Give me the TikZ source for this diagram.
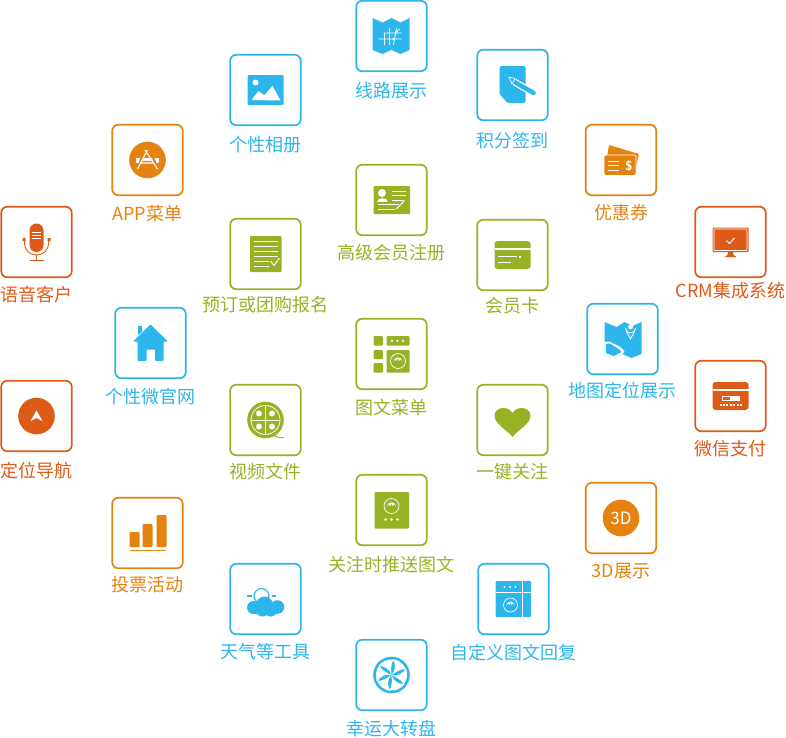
\documentclass[tikz,border=0pt]{standalone}
\usepackage{fontspec}
\newfontfamily\cjk{Noto Sans CJK SC}
\definecolor{bl}{HTML}{2DB6EC}
\definecolor{gr}{HTML}{97B224}
\definecolor{og}{HTML}{E58311}
\definecolor{rd}{HTML}{DE5A17}
\tikzset{
  tile/.style={draw, rounded corners=6pt, line width=1.7pt, minimum width=70.5pt, minimum height=70.5pt, inner sep=0pt},
  lbl/.style={font=\cjk\fontsize{18}{18}\selectfont, inner sep=0pt, anchor=center},
  ic/.style={fill=icn, rounded corners=1pt}
}
\newcommand\tile[7]{%
  \colorlet{icn}{#4}%
  \node[tile,draw=#4] (#1) at (#2,#3) {};
  \node[lbl,text=#4] (#1-l) at (#2,#5) {#6};
  \begin{scope}[shift={(#2,#3)}] #7 \end{scope}
}
\newcommand\flowerat[3]{% x y r
  \draw[white,line width=0.7pt] (#1,#2) circle (#3);
  \fill[white] ({#1-#3*0.6},{#2+#3*0.1}) -- ({#1-#3*0.35},{#2-#3*0.25}) -- ({#1-#3*0.15},{#2+#3*0.0}) -- (#1,{#2-#3*0.4}) -- ({#1+#3*0.15},{#2+#3*0.0}) -- ({#1+#3*0.35},{#2-#3*0.25}) -- ({#1+#3*0.6},{#2+#3*0.1}) arc (0:-180:{#3*0.6}) -- cycle;
}
\begin{document}
\begin{tikzpicture}[x=1pt,y=-1pt]
\useasboundingbox (0,0) rectangle (786,737);

% Route map
\tile{route}{391.5}{36}{bl}{91}{线路展示}{
  \fill[icn] (-19,-18)--(-9,-13.5)--(0,-18)--(9,-13.5)--(18,-18)--(18,14)--(9,18)--(0,14)--(-9,18)--(-19,14)--cycle;
  \draw[white,line width=0.7pt] (-13,3)--(10,3) (-8,-3)--(10,-3) (-2,-8)--(-2,9) (5,-8)--(2,9) (-7,-3)--(-7,9) (4,-3)--(8,-7);
  \fill[white] (2,3) circle (1.5);
}
% Check-in
\tile{points}{512.5}{85}{bl}{141}{积分签到}{
  \fill[icn,rounded corners=1.5pt] (-13,-19)--(13,-19)--(13,18)--(-5,18)--(-13,9)--cycle;
  \draw[white,line width=7pt] (2,-3)--(21,8);
  \draw[icn,line width=4.5pt,line cap=round] (2,-3)--(21,8);
  \draw[white,line width=0.7pt,fill=icn] (-3.5,-8)--(2.5,-6.5)--(-0.5,-1)--cycle;
}
% Coupon
\tile{coupon}{621}{160}{og}{213}{优惠券}{
  \fill[icn,rounded corners=1pt] (-12,-15)--(18,-6)--(15,7)--(-14,-3)--cycle;
  \draw[white,line width=0.8pt,fill=icn,rounded corners=1.5pt] (-17,-5) rectangle (15,15.5);
  \draw[white,line width=0.8pt] (-13,1)--(-2,1) (-13,5.5)--(-2,5.5) (-13,10)--(-2,10);
  \node[text=white,font=\sffamily\bfseries\fontsize{13}{13}\selectfont,inner sep=0pt] (couponD) at (8,5.5) {\$};
}
% CRM
\tile{crm}{730.5}{242}{rd}{291}{CRM集成系统}{
  \fill[icn,rounded corners=1pt] (-18,-14.5) rectangle (18,10);
  \draw[white,line width=0.6pt,rounded corners=0.5pt] (-16.5,-13) rectangle (16.5,8.5);
  \fill[icn] (-2.5,10)--(2.5,10)--(3,13)--(6,15)--(-6,15)--(-3,13)--cycle;
  \draw[white,line width=0.9pt] (-4,-1.5)--(-1,1.5)--(4,-4);
}
% WeChat pay
\tile{pay}{730.5}{396}{rd}{449}{微信支付}{
  \fill[icn,rounded corners=3pt] (-18,-14) rectangle (18,14);
  \fill[white] (-18,-7.5) rectangle (18,-5.5);
  \draw[white,line width=0.7pt] (-8,0) rectangle (9,4.5);
  \fill[white] (-1,0) rectangle (9,4.5);
  \foreach \dx in {-10,-6.6,-3.2,0.2,3.6,7,10.4} \fill[white] (\dx-1,8) rectangle (\dx+1,10);
}
% Location map
\tile{locmap}{622.5}{339}{bl}{391}{地图定位展示}{
  \fill[icn] (-18,-17)--(-6,-12)--(2,-17)--(10,-13)--(19,-17)--(19,15)--(9,19)--(0,15)--(-9,19)--(-18,15)--cycle;
  \fill[white] (-18,3)..controls (-12,1) and (-10,5)..(-6,6)..controls (-2,7) and (-1,10)..(2,12)--(0,15)--(-9,19)--(-18,15)--cycle;
  \fill[icn] (-16.5,5)..controls (-12,3) and (-10,7)..(-7,8)..controls (-4,9) and (-3,11)..(-1,13)--(-9,17)--(-16.5,14)--cycle;
  \draw[white,line width=0.9pt,fill=icn] (8,0)..controls (5,-6) and (3,-8)..(3,-11) arc (180:0:5)..controls (13,-8) and (11,-6)..(8,0)--cycle;
  \fill[white] (8,-12) circle (2.4);
}
% 3D
\tile{threed}{621}{518}{og}{571}{3D展示}{
  \fill[icn] (0,0) circle (18.3);
  \node[text=white,font=\cjk\fontsize{17}{17}\selectfont,inner sep=0pt] (threedT) at (0,0) {3D};
}
% Custom reply
\tile{custom}{513.5}{599}{bl}{653}{自定义图文回复}{
  \fill[icn,rounded corners=1pt] (-18,-18) rectangle (17.5,18);
  \draw[white,line width=0.9pt] (8.5,-18)--(8.5,18) (-18,-6.5)--(17.5,-6.5);
  \foreach \dx in {-9,-3.5,2} \fill[white] (\dx,-12) circle (1.2);
  \flowerat{-3}{6}{7}
}
% Lucky wheel
\tile{wheel}{391.5}{675}{bl}{729}{幸运大转盘}{
  \fill[icn] (0,0) circle (18.3);
  \foreach \a in {0,60,...,300}
    \fill[white,rotate=\a] (0,0)..controls (4,-4) and (5,-11)..(1,-16)..controls (8,-15) and (13,-10)..(14,-6)..controls (9,-6) and (4,-3)..(0,0)--cycle;
}
% Weather
\tile{weather}{265.5}{599}{bl}{652}{天气等工具}{
  \draw[icn,line width=1.2pt] (-4,-3) circle (7.5);
  \foreach \a in {180,225,270,315,0}
    \draw[icn,line width=1.3pt] (-4,-3)++(-\a:10)--++(-\a:4.5);
  \fill[white] (-15,6) rectangle (15,17);
  \fill[icn] (-12,8.5) circle (6.5) (12,8) circle (6.8) (-1,6) circle (8.5) (-3,11) circle (6.5) (5,11) circle (6.5);
  \fill[icn] (-12,9) rectangle (12,15);
}
% Vote
\tile{vote}{147.5}{533}{og}{585}{投票活动}{
  \fill[ic] (-18,-1) rectangle (-8,14);
  \fill[ic] (-5,-9) rectangle (5,14);
  \fill[ic] (9,-18) rectangle (19,14);
  \draw[icn,line width=1.1pt] (-18,17.5)--(18.5,17.5);
}
% Navigation
\tile{navi}{36.5}{416}{rd}{471}{定位导航}{
  \fill[icn] (0,0) circle (18.3);
  \fill[white] (0,-5.5)--(6,5)--(0,2)--(-6,5)--cycle;
}
% Voice
\tile{voice}{36.5}{242}{rd}{295}{语音客户}{
  \fill[icn,rounded corners=6.9pt] (-7,-18.5) rectangle (7,10);
  \draw[white,line width=0.7pt] (-4.5,-10)--(4.5,-10) (-4.5,-7)--(4.5,-7) (-4.5,-4)--(4.5,-4);
  \draw[icn,line width=0.9pt] (-12,-3)--(-12,1)..controls (-12,9) and (-6,13)..(0,13)..controls (6,13) and (12,9)..(12,1)--(12,-3);
  \draw[icn,line width=0.9pt] (0,13)--(0,18) (-7,18)--(7,18);
  \fill[icn] (-14,-4) rectangle (-11,-1) (11,-4) rectangle (14,-1);
}
% APP
\tile{app}{147.5}{160}{og}{214}{APP菜单}{
  \fill[icn] (0,0) circle (18.3);
  \fill[white] (-11.5,-2) rectangle (11.5,3);
  \draw[icn,line width=2.4pt] (-5,-5)--(-9,8) (5,-5)--(9,8) (-6,2)--(6,2);
  \draw[white,line width=1.1pt] (0,-10)--(-10,9) (-2.5,-10)--(10,9) (-6,3)--(6,3);
}
% Album
\tile{album}{265.5}{90}{bl}{145}{个性相册}{
  \fill[ic] (-18,-15) rectangle (18,15);
  \fill[white] (-10,-7.5) circle (3);
  \fill[white] (-14,10)--(-7,1)--(-3,4)--(-1,5)--(7,-4)--(15,10.5)--cycle;
}
% Booking
\tile{booking}{265.5}{254}{gr}{305}{预订或团购报名}{
  \fill[ic] (-15.5,-18) rectangle (16,18);
  \draw[white,line width=0.8pt] (-11.5,-13)--(12,-13) (-11.5,-8)--(12,-8) (-11.5,-3)--(12,-3) (-11.5,2)--(12,2) (-11.5,7)--(3,7) (-11.5,12.5)--(3,12.5);
  \draw[white,line width=0.9pt] (5,7)--(8.5,11.5)--(14,4);
}
% Member registration
\tile{register}{391.5}{200}{gr}{253}{高级会员注册}{
  \fill[ic] (-18,-14) rectangle (18.5,14);
  \fill[white] (-9.5,-7) circle (4);
  \fill[white] (-15,2)..controls (-15,-3) and (-4,-3)..(-4,2)--cycle;
  \draw[white,line width=0.8pt] (0,-9)--(14,-9) (0,-4.5)--(14,-4.5) (0,0)--(11,0) (-14,4.5)--(7,4.5) (-14,9)--(3,9);
  \draw[white,line width=1pt] (5,9)--(13,0.5);
}
% Member card
\tile{card}{512.5}{255}{gr}{306}{会员卡}{
  \fill[icn,rounded corners=3pt] (-18,-14) rectangle (18,14);
  \fill[white] (-18,-7.5) rectangle (18,-5.5);
  \draw[white,line width=1pt] (-15,1.5)--(4,1.5) (-15,7.5)--(-2,7.5);
  \fill[white] (6.8,1) rectangle (8.8,3);
}
% Article menu
\tile{menu}{391.5}{354}{gr}{408}{图文菜单}{
  \fill[ic] (-18,-18) rectangle (-8.5,-8.5);
  \fill[ic] (-18,-4) rectangle (-8.5,5);
  \fill[ic] (-18,9) rectangle (-8.5,18.5);
  \fill[ic] (-5,-18) rectangle (18,-8.5);
  \foreach \dx in {0.5,6,11.5} \fill[white] (\dx,-13.2) circle (1.2);
  \fill[ic] (-5,-4) rectangle (18,18.5);
  \flowerat{6.5}{7}{7.5}
}
% Micro site
\tile{site}{150.5}{343}{bl}{397}{个性微官网}{
  \fill[icn] (-12.5,-17)--(-8.5,-17)--(-8.5,-11)--(-12.5,-8)--cycle;
  \fill[icn,rounded corners=0.8pt] (0,-18.5)--(17.5,-1.5)--(13,-1.5)--(13,18)--(4.5,18)--(4.5,6.5)--(-4,6.5)--(-4,18)--(-13,18)--(-13,-1.5)--(-17.5,-1.5)--cycle;
}
% Video
\tile{video}{265.5}{420}{gr}{472}{视频文件}{
  \fill[icn] (0,0) circle (18.3);
  \draw[white,line width=0.8pt] (0,0) circle (14.5);
  \draw[white,line width=0.9pt] (-14.5,0)--(14.5,0) (0,-14.5)--(0,14.5);
  \foreach \dx/\dy in {-6.5/-6.5,6.5/-6.5,-6.5/6.5,6.5/6.5} \fill[white] (\dx,\dy) circle (3);
  \draw[icn,line width=1pt] (9,16)..controls (12,17) and (14,18)..(18,17.5);
}
% Follow
\tile{follow}{512.5}{420}{gr}{472}{一键关注}{
  \fill[icn] (0,17)..controls (-4,11) and (-18,4)..(-18,-4)..controls (-18,-10) and (-13,-12)..(-9,-12)..controls (-4,-12) and (-1,-9)..(0,-7)..controls (1,-9) and (4,-12)..(9,-12)..controls (13,-12) and (18,-10)..(18,-4)..controls (18,4) and (4,11)..(0,17)--cycle;
}
% Push
\tile{push}{391.5}{510}{gr}{565}{关注时推送图文}{
  \fill[ic] (-17,-18) rectangle (17.5,18.5);
  \flowerat{0}{-4}{7.5}
  \foreach \dx in {-6,0,6} \fill[white] (\dx,9.5) circle (1.3);
}
\end{tikzpicture}
\end{document}
